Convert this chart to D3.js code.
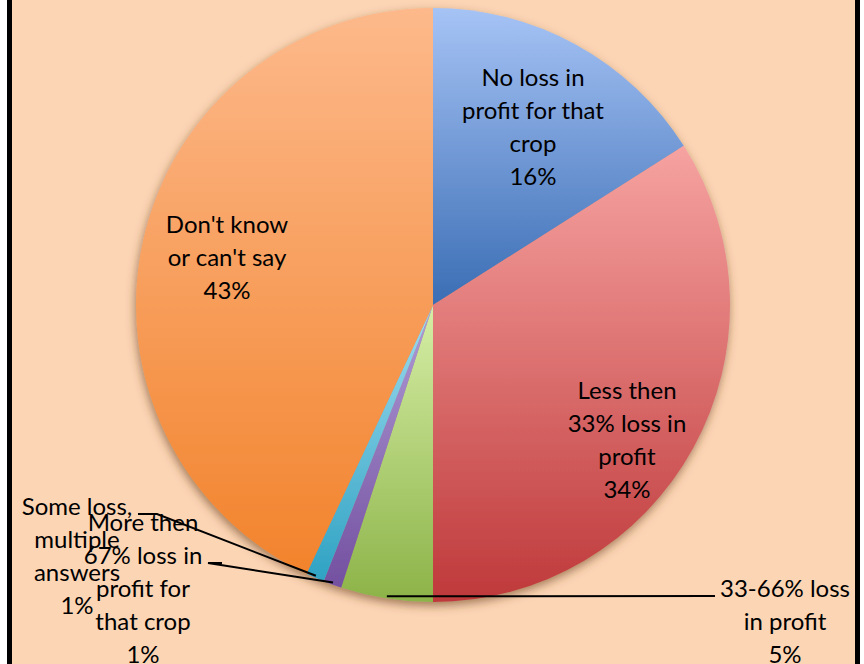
<!DOCTYPE html>
<html>
<head>
<meta charset="utf-8">
<script src="https://cdn.jsdelivr.net/npm/d3@7"></script>
<style>
  html, body { margin: 0; padding: 0; background: #ffffff; }
  svg { display: block; }
</style>
</head>
<body>
<script>
// ---- Data ----
const categories = [
  "No loss in profit for that crop",
  "Less then 33% loss in profit",
  "33-66% loss in profit",
  "More then 67% loss in profit for that crop",
  "Some loss, multiple answers",
  "Don't know or can't say"
];
const values = [16, 34, 5, 1, 1, 43];
const labelLines = [
  ["No loss in", "profit for that", "crop", "16%"],
  ["Less then", "33% loss in", "profit", "34%"],
  ["33-66% loss", "in profit", "5%"],
  ["More then", "67% loss in", "profit for", "that crop", "1%"],
  ["Some loss,", "multiple", "answers", "1%"],
  ["Don't know", "or can't say", "43%"]
];
const lightColors = ["#a6c3f5", "#f6a3a1", "#d6eea6", "#b09cd6", "#9fdcef", "#fdb98b"];
const darkColors  = ["#3a6db4", "#bf393a", "#8cb348", "#7350a0", "#2fa2c3", "#f2832c"];

// ---- Layout ----
const W = 864, H = 664;
const cx = 433, cy = 305, R = 297;
// label centre (first line) offsets relative to pie centre, and leader starts
const labelAnchor = [
  [100, -227], [194, 86], [352, 284], [-290, 218], [-356, 202], [-206, -80]
];
const leaderStart = [null, null, [282, 291], [-211, 258], [-295, 209], null];
const leaderElbow = [null, null, null, [-225, 258], [-276, 209], null];

const svg = d3.select("body").append("svg").attr("width", W).attr("height", H);
const defs = svg.append("defs");

svg.append("rect").attr("x", 9.5).attr("y", -10).attr("width", 848).attr("height", H + 20)
  .attr("fill", "#fcd5b5").attr("stroke", "#000").attr("stroke-width", 5);

const flt = defs.append("filter").attr("id", "shadow")
  .attr("x", "-20%").attr("y", "-20%").attr("width", "140%").attr("height", "140%");
flt.append("feDropShadow").attr("dx", -1).attr("dy", 4).attr("stdDeviation", 5)
  .attr("flood-color", "#6b4020").attr("flood-opacity", 0.6);

values.forEach((v, i) => {
  const g = defs.append("linearGradient").attr("id", "grad" + i)
    .attr("x1", 0).attr("y1", 0).attr("x2", 0).attr("y2", 1);
  g.append("stop").attr("offset", "0%").attr("stop-color", lightColors[i]);
  g.append("stop").attr("offset", "100%").attr("stop-color", darkColors[i]);
});

const pie = d3.pie().sort(null).value(d => d)(values);
const arc = d3.arc().innerRadius(0).outerRadius(R);

const gPie = svg.append("g").attr("transform", `translate(${cx},${cy})`);
const shadowG = gPie.append("g").attr("filter", "url(#shadow)");
shadowG.selectAll("path").data(pie).join("path")
  .attr("d", arc)
  .attr("fill", (d, i) => `url(#grad${i})`);

// leader lines
const edgeArc = d3.arc().innerRadius(R - 2).outerRadius(R - 2);
pie.forEach((d, i) => {
  if (!leaderStart[i]) return;
  const mid = (d.startAngle + d.endAngle) / 2;
  const ex = (R - 2) * Math.sin(mid), ey = -(R - 2) * Math.cos(mid);
  const pts = [leaderStart[i]];
  if (leaderElbow[i]) pts.push(leaderElbow[i]);
  pts.push([ex, ey]);
  gPie.append("path").attr("d", d3.line()(pts))
    .attr("fill", "none").attr("stroke", "#000").attr("stroke-width", 2);
});

// labels
const lh = 33;
const order = [0, 1, 2, 5, 4, 3];
order.forEach(i => {
  const t = gPie.append("text")
    .attr("text-anchor", "middle")
    .attr("font-family", "Lato, 'Open Sans', sans-serif")
    .attr("font-size", 24)
    .attr("fill", "#000");
  labelLines[i].forEach((ln, k) => {
    t.append("tspan").attr("x", labelAnchor[i][0]).attr("y", labelAnchor[i][1] + k * lh)
      .attr("dy", "0.35em").text(ln);
  });
});
</script>
</body>
</html>
